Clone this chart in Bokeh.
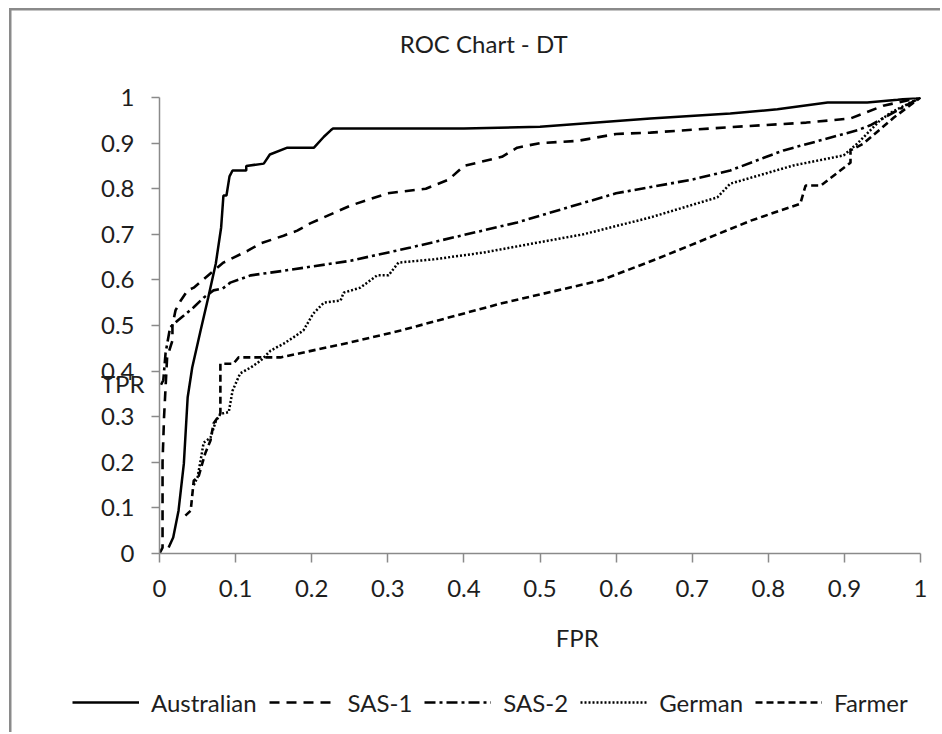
from bokeh.plotting import figure
from bokeh.layouts import column
from bokeh.models import (Range1d, FixedTicker, CustomJSTickFormatter, Legend,
                          LegendItem, LinearAxis)
from bokeh.embed import file_html
from bokeh.resources import INLINE

# ---------------- data ----------------
AU_FPR = [0.012, 0.018, 0.025, 0.032, 0.037, 0.043, 0.054, 0.064, 0.074, 0.081,
          0.084, 0.088, 0.092, 0.096, 0.114, 0.114, 0.137, 0.145, 0.168, 0.203,
          0.216, 0.225, 0.228, 0.40, 0.50, 0.645, 0.75, 0.812, 0.878, 0.93,
          0.97, 1.0]
AU_TPR = [0.013, 0.035, 0.094, 0.197, 0.342, 0.408, 0.489, 0.561, 0.636, 0.715,
          0.785, 0.785, 0.827, 0.84, 0.84, 0.85, 0.855, 0.875, 0.89, 0.89,
          0.914, 0.928, 0.932, 0.932, 0.936, 0.954, 0.965, 0.974, 0.989, 0.989,
          0.995, 1.0]

S1_FPR = [0.0, 0.004, 0.004, 0.006, 0.01, 0.017, 0.017, 0.021, 0.028, 0.037,
          0.045, 0.071, 0.084, 0.116, 0.133, 0.163, 0.181, 0.198, 0.251, 0.30,
          0.35, 0.38, 0.40, 0.45, 0.47, 0.50, 0.55, 0.60, 0.645, 0.75,
          0.85, 0.908, 0.925, 0.951, 1.0]
S1_TPR = [0.0, 0.013, 0.2, 0.3, 0.43, 0.467, 0.5, 0.533, 0.555, 0.577,
          0.583, 0.62, 0.638, 0.664, 0.68, 0.697, 0.708, 0.724, 0.763, 0.79,
          0.80, 0.82, 0.85, 0.87, 0.89, 0.90, 0.905, 0.92, 0.923, 0.935,
          0.945, 0.954, 0.965, 0.982, 1.0]

S2_FPR = [0.002, 0.005, 0.008, 0.014, 0.024, 0.032, 0.045, 0.058, 0.071, 0.083,
          0.093, 0.12, 0.163, 0.251, 0.33, 0.47, 0.60, 0.70, 0.75, 0.82,
          0.917, 0.934, 1.0]
S2_TPR = [0.37, 0.38, 0.44, 0.496, 0.511, 0.522, 0.54, 0.561, 0.577, 0.581,
          0.594, 0.61, 0.62, 0.642, 0.671, 0.726, 0.79, 0.82, 0.84, 0.884,
          0.928, 0.939, 1.0]

GE_FPR = [0.045, 0.05, 0.054, 0.058, 0.067, 0.074, 0.08, 0.091, 0.096, 0.106,
          0.12, 0.133, 0.146, 0.163, 0.176, 0.189, 0.202, 0.216, 0.238, 0.242,
          0.264, 0.286, 0.301, 0.314, 0.36, 0.426, 0.491, 0.557, 0.645, 0.733,
          0.75, 0.833, 0.899, 0.917, 0.947, 0.961, 1.0]
GE_TPR = [0.15, 0.167, 0.204, 0.243, 0.254, 0.29, 0.306, 0.31, 0.357, 0.395,
          0.408, 0.423, 0.445, 0.46, 0.474, 0.489, 0.526, 0.55, 0.555, 0.572,
          0.583, 0.61, 0.61, 0.638, 0.645, 0.66, 0.68, 0.70, 0.737, 0.781,
          0.811, 0.851, 0.873, 0.899, 0.95, 0.967, 1.0]

FA_FPR = [0.034, 0.041, 0.045, 0.051, 0.06, 0.067, 0.071, 0.08, 0.08, 0.097,
          0.104, 0.159, 0.251, 0.317, 0.448, 0.58, 0.658, 0.777, 0.842, 0.849,
          0.869, 0.908, 0.908, 0.925, 0.965, 1.0]
FA_TPR = [0.083, 0.094, 0.16, 0.167, 0.219, 0.248, 0.285, 0.307, 0.416, 0.416,
          0.43, 0.43, 0.463, 0.489, 0.548, 0.599, 0.649, 0.73, 0.767, 0.807,
          0.807, 0.857, 0.884, 0.899, 0.956, 1.0]

SERIES = ["Australian", "SAS-1", "SAS-2", "German", "Farmer"]
TICKS = [0, 0.1, 0.2, 0.3, 0.4, 0.5, 0.6, 0.7, 0.8, 0.9, 1]
TITLE = "ROC Chart - DT"
X_TITLE = "FPR"
Y_TITLE = "TPR"

# ---------------- styling ----------------
FONT = "Lato"
FS = "24px"
TXT = "#1e1e1e"
AXC = "#8a8a8a"
STYLES = [("solid", 2.5), ("10 7", 2.6), ("11 4 3 4", 2.6), ("2 2", 2.5), ("7 4", 2.6)]

p = figure(width=940, height=680, output_backend="svg", toolbar_location=None,
           title=None, x_range=Range1d(0, 1), y_range=Range1d(0, 1),
           min_border_left=159, min_border_right=20, min_border_top=97,
           min_border_bottom=127)
p.frame_align = False
p.outline_line_color = None
p.xgrid.visible = False
p.ygrid.visible = False
p.background_fill_color = "white"
p.border_fill_alpha = 0

fmt = CustomJSTickFormatter(code="return tick.toFixed(1).replace(/\\.0$/, '');")
for ax in (p.xaxis[0], p.yaxis[0]):
    ax.ticker = FixedTicker(ticks=TICKS)
    ax.formatter = fmt
    ax.axis_line_color = AXC
    ax.axis_line_width = 1.5
    ax.major_tick_line_color = AXC
    ax.major_tick_line_width = 1.5
    ax.major_tick_in = 0
    ax.minor_tick_line_color = None
    ax.major_label_text_font = FONT
    ax.major_label_text_font_size = FS
    ax.major_label_text_color = TXT
p.yaxis[0].major_tick_out = 8
p.yaxis[0].major_label_standoff = 17
p.xaxis[0].major_tick_out = 9
p.xaxis[0].major_label_standoff = 17


def text_axis(text, pos, standoff):
    """An axis with no line or ticks that carries one text (chart/axis titles)."""
    return LinearAxis(ticker=FixedTicker(ticks=[pos]),
                      formatter=CustomJSTickFormatter(code="return '%s';" % text),
                      axis_line_color=None, major_tick_line_color=None,
                      minor_tick_line_color=None, major_tick_in=0, major_tick_out=0,
                      major_label_standoff=standoff,
                      major_label_text_font=FONT, major_label_text_font_size=FS,
                      major_label_text_color=TXT)


p.add_layout(text_axis(TITLE, 0.426, 40), "above")
p.add_layout(text_axis(Y_TITLE, 0.373, -47), "left")
p.add_layout(text_axis(X_TITLE, 0.549, 23), "below")

series = [(AU_FPR, AU_TPR), (S1_FPR, S1_TPR), (S2_FPR, S2_TPR),
          (GE_FPR, GE_TPR), (FA_FPR, FA_TPR)]
for (xs, ys), (dash, w) in zip(series, STYLES):
    p.line(xs, ys, line_color="black", line_width=w, line_dash=dash)

# ---------------- legend strip below the chart ----------------
NAN = float("nan")
pl = figure(width=940, height=52, output_backend="svg", toolbar_location=None,
            x_range=Range1d(0, 1), y_range=Range1d(0, 1),
            x_axis_type=None, y_axis_type=None, min_border=0)
pl.frame_align = False
pl.outline_line_color = None
pl.xgrid.visible = False
pl.ygrid.visible = False
pl.background_fill_alpha = 0
pl.border_fill_alpha = 0
# legend swatches only (no visible data)
proxies = [pl.line([NAN], [NAN], line_color="black", line_width=w, line_dash=dash)
           for dash, w in STYLES]
legend = Legend(items=[LegendItem(label=n, renderers=[r]) for n, r in zip(SERIES, proxies)],
                orientation="horizontal", location=(72, 15),
                glyph_width=67, glyph_height=30, label_height=30,
                label_standoff=12, spacing=12, padding=0, margin=0,
                border_line_color=None, background_fill_alpha=0,
                label_text_font=FONT, label_text_font_size=FS,
                label_text_color=TXT)
pl.add_layout(legend)

lay = column(p, pl, spacing=0)
# outer chart-area border (left and top edges visible in the reference)
lay.styles = {"box-shadow": "inset 9px 8px 0 0 white, inset 11.5px 10.5px 0 0 #8a8a8a"}

open("out.html", "w").write(file_html(lay, INLINE))
